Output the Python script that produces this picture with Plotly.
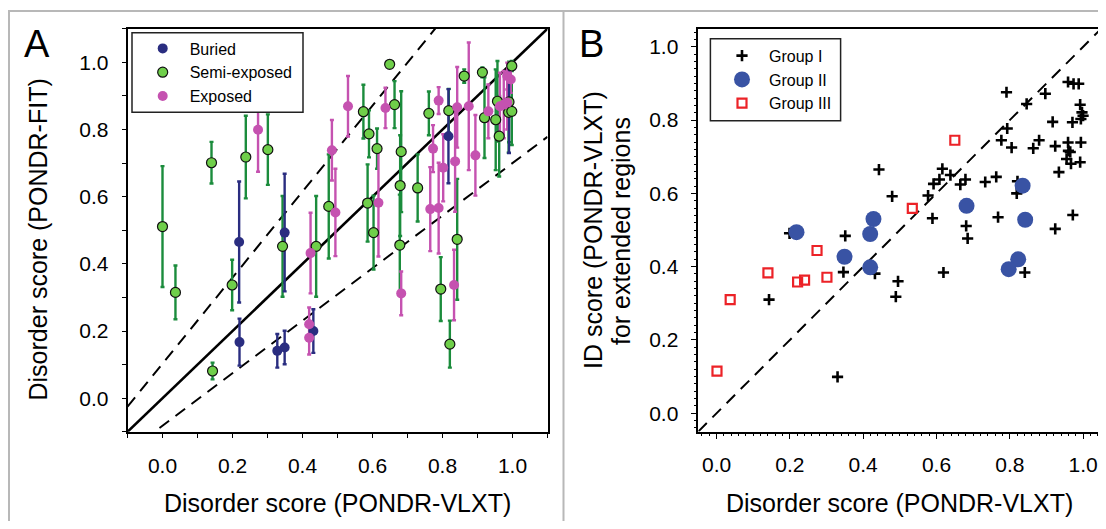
import numpy as np
import plotly.graph_objects as go

# ---------------- Panel A data ----------------
bur_x = [0.219, 0.220, 0.328, 0.349, 0.349, 0.431, 0.817, 0.990]
bur_y = [0.465, 0.167, 0.141, 0.151, 0.493, 0.200, 0.780, 0.860]
bur_e = [0.180, 0.070, 0.050, 0.050, 0.175, 0.065, 0.140, 0.130]

semi_x = [0.000, 0.037, 0.140, 0.143, 0.199, 0.238, 0.301, 0.343, 0.439, 0.475,
          0.574, 0.586, 0.590, 0.603, 0.613, 0.649, 0.663, 0.679, 0.682, 0.678,
          0.729, 0.761, 0.795, 0.818, 0.821, 0.842, 0.862, 0.914, 0.920, 0.952,
          0.957, 0.962, 0.989, 0.990, 0.998, 0.998]
semi_y = [0.511, 0.315, 0.701, 0.081, 0.337, 0.718, 0.740, 0.452, 0.452, 0.571,
          0.853, 0.581, 0.787, 0.493, 0.743, 0.994, 0.874, 0.633, 0.734, 0.456,
          0.626, 0.848, 0.325, 0.856, 0.161, 0.473, 0.959, 0.970, 0.835, 0.829,
          0.884, 0.780, 0.851, 0.882, 0.989, 0.854]
semi_e = [0.180, 0.080, 0.062, 0.025, 0.075, 0.123, 0.105, 0.150, 0.150, 0.155,
          0.080, 0.115, 0.070, 0.110, 0.060, 0.000, 0.070, 0.150, 0.180, 0.150,
          0.100, 0.065, 0.095, 0.065, 0.070, 0.180, 0.020, 0.015, 0.120, 0.150,
          0.120, 0.120, 0.120, 0.120, 0.015, 0.100]

exp_x = [0.273, 0.423, 0.419, 0.419, 0.484, 0.494, 0.530, 0.617, 0.637, 0.682,
         0.765, 0.773, 0.789, 0.789, 0.802, 0.833, 0.836, 0.842, 0.875, 0.894,
         0.931, 0.964, 0.975, 0.985, 0.995, 0.985]
exp_y = [0.799, 0.432, 0.220, 0.180, 0.738, 0.553, 0.869, 0.582, 0.864, 0.312,
         0.563, 0.743, 0.886, 0.566, 0.686, 0.337, 0.705, 0.866, 0.869, 0.723,
         0.854, 0.869, 0.874, 0.959, 0.949, 0.880]
exp_e = [0.125, 0.120, 0.050, 0.050, 0.090, 0.130, 0.090, 0.160, 0.060, 0.065,
         0.125, 0.070, 0.040, 0.135, 0.100, 0.105, 0.150, 0.120, 0.190, 0.120,
         0.080, 0.100, 0.100, 0.040, 0.040, 0.080]

# fitted / bound lines: (slope, intercept)
line_solid = [1.0, 0.0]
line_upper = [1.28, 0.103]
line_lower = [0.782, -0.082]

# ---------------- Panel B data ----------------
g1_x = [0.199, 0.143, 0.330, 0.351, 0.346, 0.432, 0.443, 0.479, 0.495, 0.489,
        0.577, 0.589, 0.592, 0.608, 0.616, 0.619, 0.638, 0.665, 0.679, 0.681,
        0.685, 0.733, 0.763, 0.768, 0.777, 0.791, 0.793, 0.805, 0.821, 0.819,
        0.841, 0.846, 0.864, 0.880, 0.897, 0.917, 0.924, 0.924, 0.934, 0.959,
        0.959, 0.955, 0.965, 0.967, 0.971, 0.972, 0.974, 0.988, 0.992, 0.994,
        0.992, 0.994, 1.000, 0.997, 0.960]
g1_y = [0.491, 0.310, 0.099, 0.484, 0.385, 0.381, 0.665, 0.592, 0.360, 0.318,
        0.594, 0.532, 0.626, 0.638, 0.667, 0.384, 0.650, 0.624, 0.638, 0.511,
        0.477, 0.631, 0.645, 0.535, 0.745, 0.876, 0.777, 0.725, 0.633, 0.600,
        0.384, 0.844, 0.723, 0.745, 0.872, 0.795, 0.729, 0.503, 0.658, 0.904,
        0.739, 0.694, 0.713, 0.681, 0.794, 0.541, 0.899, 0.899, 0.842, 0.739,
        0.685, 0.803, 0.812, 0.821, 0.716]

g2_x = [0.218, 0.349, 0.419, 0.428, 0.419, 0.682, 0.835, 0.842, 0.823, 0.797]
g2_y = [0.494, 0.427, 0.489, 0.530, 0.398, 0.566, 0.621, 0.528, 0.420, 0.393]

g3_x = [0.001, 0.037, 0.140, 0.221, 0.240, 0.274, 0.301, 0.534, 0.650]
g3_y = [0.115, 0.310, 0.383, 0.358, 0.363, 0.444, 0.371, 0.559, 0.745]

tickA = [round(-0.1 + 0.1 * i, 1) for i in range(13)]
tickA_text = [("%.1f" % v) if (abs(round(v * 10)) % 2 == 0 and 0 <= v <= 1.0) else "" for v in tickA]

# ---------------- figure ----------------
# page has an 8px body margin; keep the figure inside the window
W, H = 1098, 513
FONT = "Liberation Sans, Arial, sans-serif"
NAVY = "#2a2d80"
GREEN_F = "#6fcf4a"
GREEN_E = "#1b8c3c"
MAG = "#c552b0"
BLUE = "#3953a4"
RED = "#ec2227"

def px(x):
    return x / W

def py(y):
    return 1 - y / H

fig = go.Figure()

# lines in panel A
xl = np.array([-0.1, 1.1])
for (s, b), dash, w in [(line_upper, "12px,8px", 2), (line_lower, "12px,8px", 2), (line_solid, "solid", 2.6)]:
    fig.add_trace(go.Scatter(x=xl, y=s * xl + b, mode="lines", showlegend=False,
                             line=dict(color="black", width=w, dash=dash), hoverinfo="skip",
                             xaxis="x", yaxis="y"))

# error bars
for xs, ys, es, col in [(semi_x, semi_y, semi_e, GREEN_E), (exp_x, exp_y, exp_e, MAG), (bur_x, bur_y, bur_e, NAVY)]:
    fig.add_trace(go.Scatter(x=xs, y=ys, mode="markers", showlegend=False,
                             marker=dict(size=2, opacity=0),
                             error_y=dict(type="data", array=es, visible=True, color=col,
                                          thickness=2.4, width=2),
                             xaxis="x", yaxis="y", hoverinfo="skip"))

# markers
fig.add_trace(go.Scatter(x=bur_x, y=bur_y, mode="markers", name="Buried",
                         marker=dict(size=10, color=NAVY, line=dict(width=0)),
                         xaxis="x", yaxis="y", legend="legend"))
fig.add_trace(go.Scatter(x=semi_x, y=semi_y, mode="markers", name="Semi-exposed",
                         marker=dict(size=10, color=GREEN_F, line=dict(width=1.2, color="#111111")),
                         xaxis="x", yaxis="y", legend="legend"))
fig.add_trace(go.Scatter(x=exp_x, y=exp_y, mode="markers", name="Exposed",
                         marker=dict(size=10, color=MAG, line=dict(width=0)),
                         xaxis="x", yaxis="y", legend="legend"))

# panel B
xd = np.array([-0.05, 1.05])
fig.add_trace(go.Scatter(x=xd, y=xd, mode="lines", showlegend=False,
                         line=dict(color="black", width=2, dash="12px,8px"),
                         xaxis="x2", yaxis="y2", hoverinfo="skip"))
fig.add_trace(go.Scatter(x=g1_x, y=g1_y, mode="markers", name="Group I",
                         marker=dict(symbol="cross-thin", size=8, color="black",
                                     line=dict(width=2.6, color="black")),
                         xaxis="x2", yaxis="y2", legend="legend2"))
fig.add_trace(go.Scatter(x=g2_x, y=g2_y, mode="markers", name="Group II",
                         marker=dict(size=16, color=BLUE, line=dict(width=0)),
                         xaxis="x2", yaxis="y2", legend="legend2"))
fig.add_trace(go.Scatter(x=g3_x, y=g3_y, mode="markers", name="Group III",
                         marker=dict(symbol="square-open", size=9, color=RED,
                                     line=dict(width=2.2, color=RED)),
                         xaxis="x2", yaxis="y2", legend="legend2"))

axis_common = dict(showline=True, linecolor="black", linewidth=1.5, mirror=True,
                   showgrid=False, zeroline=False, ticks="outside", tickcolor="black",
                   tickfont=dict(family=FONT, size=21, color="black"))

A_L, A_R, A_T, A_B = 119.5, 539.5, 20.7, 423.8
B_L, B_R, B_T, B_B = 690.3, 1093.4, 20.5, 423.5

fig.update_layout(
    width=W, height=H, margin=dict(l=0, r=0, t=0, b=0),
    paper_bgcolor="white", plot_bgcolor="white",
    font=dict(family=FONT, color="black"),
    xaxis=dict(domain=[px(A_L), px(A_R)], range=[-0.1, 1.1], anchor="y",
               tickmode="array", tickvals=tickA, ticktext=tickA_text, ticklen=4,
               tickwidth=1.2, ticklabelstandoff=10, **axis_common),
    yaxis=dict(domain=[py(A_B), py(A_T)], range=[-0.1, 1.1], anchor="x",
               tickmode="array", tickvals=tickA, ticktext=tickA_text, ticklen=4,
               tickwidth=1.2, ticklabelstandoff=9, **axis_common),
    xaxis2=dict(domain=[px(B_L), px(B_R)], range=[-0.05, 1.05], anchor="y2",
                tick0=0, dtick=0.2, tickformat=".1f", ticklen=6, tickwidth=1.2,
                ticklabelstandoff=8,
                minor=dict(dtick=0.02, ticklen=3, ticks="outside", tickcolor="black", tickwidth=1),
                **axis_common),
    yaxis2=dict(domain=[py(B_B), py(B_T)], range=[-0.05, 1.05], anchor="x2",
                tick0=0, dtick=0.2, tickformat=".1f", ticklen=6, tickwidth=1.2,
                ticklabelstandoff=8,
                minor=dict(dtick=0.02, ticklen=3, ticks="outside", tickcolor="black", tickwidth=1),
                **axis_common),
    legend=dict(x=px(127.7), y=py(23.5), xanchor="left", yanchor="top",
                bgcolor="rgba(0,0,0,0)", borderwidth=0, itemwidth=44,
                font=dict(family=FONT, size=16, color="black"), tracegroupgap=0),
    legend2=dict(x=px(707), y=py(30.7), xanchor="left", yanchor="top",
                 bgcolor="rgba(0,0,0,0)", borderwidth=0, itemwidth=44,
                 font=dict(family=FONT, size=16, color="black"), tracegroupgap=0),
    showlegend=True,
)

# legend frames and panel frame
shapes = [
    dict(type="rect", xref="paper", yref="paper", x0=px(124), x1=px(295), y0=py(104.3), y1=py(24.7),
         line=dict(color="#222222", width=1.5), fillcolor="rgba(255,255,255,1)", layer="above"),
    dict(type="rect", xref="paper", yref="paper", x0=px(702.4), x1=px(832.6), y0=py(112.8), y1=py(30.8),
         line=dict(color="#222222", width=1.5), fillcolor="rgba(0,0,0,0)", layer="above"),
    dict(type="line", xref="paper", yref="paper", x0=px(0), x1=1, y0=py(3), y1=py(3),
         line=dict(color="#b8b8b8", width=2)),
    dict(type="line", xref="paper", yref="paper", x0=px(1), x1=px(1), y0=py(3), y1=0,
         line=dict(color="#b8b8b8", width=2)),
    dict(type="line", xref="paper", yref="paper", x0=px(555.5), x1=px(555.5), y0=py(3), y1=0,
         line=dict(color="#b8b8b8", width=2)),
]
fig.update_layout(shapes=shapes)

ann = [
    dict(text="A", x=px(28.5), y=py(36), font=dict(size=38)),
    dict(text="B", x=px(583), y=py(36), font=dict(size=38)),
    dict(text="Disorder score (PONDR-VLXT)", x=px((A_L + A_R) / 2), y=py(495), font=dict(size=25)),
    dict(text="Disorder score (PONDR-VLXT)", x=px((B_L + B_R) / 2), y=py(495), font=dict(size=25)),
    dict(text="Disorder score (PONDR-FIT)", x=px(29.5), y=py(232), font=dict(size=25), textangle=-90),
    dict(text="ID score (PONDR-VLXT)", x=px(585), y=py(222), font=dict(size=25), textangle=-90),
    dict(text="for extended regions", x=px(613), y=py(223), font=dict(size=25), textangle=-90),
]
for a in ann:
    a.update(xref="paper", yref="paper", showarrow=False, xanchor="center", yanchor="middle")
    a["font"] = dict(family=FONT, color="black", size=a["font"]["size"])
fig.update_layout(annotations=ann)

fig.write_html("out.html")
